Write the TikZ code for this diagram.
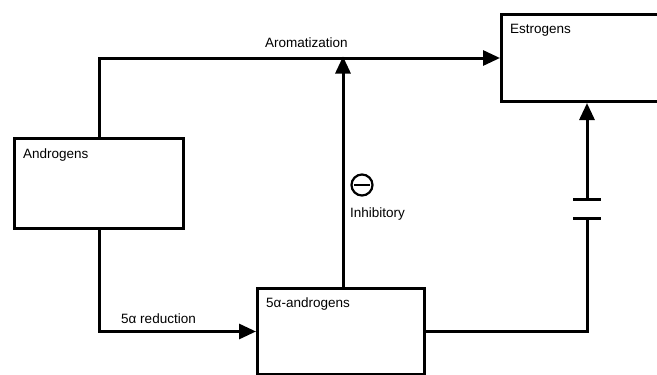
\documentclass[tikz,border=0pt]{standalone}
\usepackage{fontspec}
\setmainfont{Liberation Sans}
\usetikzlibrary{arrows.meta,positioning}

\begin{document}
\begin{tikzpicture}[
  x=1pt, y=-1pt,
  font=\fontsize{13.5}{16}\selectfont,
  box/.style={rectangle, draw, line width=3pt, anchor=north west, inner sep=0pt},
  boxname/.style={anchor=base west, inner sep=0pt},
  lbl/.style={anchor=base west, inner sep=0pt},
  conn/.style={line width=3pt},
  arr/.style={conn, -{Triangle[length=17pt, width=15pt]}}
]
\useasboundingbox (0,0) rectangle (657,375);

\node[box, minimum width=169pt, minimum height=90pt] (andro) at (13,137) {};
\node[box, minimum width=170pt, minimum height=87pt] (estro) at (500,13) {};
\node[box, minimum width=167pt, minimum height=86pt] (five) at (256,287) {};

\node[boxname] at ([xshift=10pt, yshift=-21pt]andro.north west) {Androgens};
\node[boxname] at ([xshift=10pt, yshift=-20pt]estro.north west) {Estrogens};
\node[boxname] at ([xshift=10pt, yshift=-20pt]five.north west) {5α-androgens};

\coordinate (inhib) at (343,56.5);
\coordinate (capbot) at (587,218);
\coordinate (captop) at (587,199);

\draw[arr] (andro.north) |- (estro.west);
\node[lbl] (aroma) at (265,47) {Aromatization};

\draw[arr] (andro.south) |- (five.west);
\node[lbl] (reduct) at (121,323) {5α reduction};

\draw[arr] (five.north -| inhib) -- (inhib);
\node[circle, draw, line width=2.2pt, minimum size=21pt, inner sep=0pt] (minus) at (362,185) {};
\draw[line width=2.6pt] ([xshift=4pt]minus.west) -- ([xshift=-4pt]minus.east);
\node[lbl] (inhtext) at (350,217) {Inhibitory};

\draw[conn] (five.east) -| (capbot);
\draw[conn] ([xshift=-14pt]capbot) -- ([xshift=14pt]capbot);
\draw[conn] ([xshift=-14pt]captop) -- ([xshift=14pt]captop);
\draw[arr] (captop) -- (estro.south -| captop);
\end{tikzpicture}
\end{document}
